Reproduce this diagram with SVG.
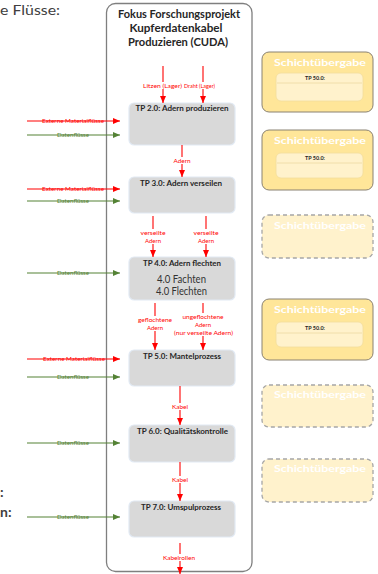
<svg xmlns="http://www.w3.org/2000/svg" width="378" height="574" viewBox="0 0 378 574">
  <defs>
    <marker id="arrRed" markerUnits="userSpaceOnUse" markerWidth="7" markerHeight="6" refX="7" refY="3" orient="auto">
      <path d="M0,0 L7,3 L0,6 z" fill="#ff0000"/>
    </marker>
    <marker id="arrGreen" markerUnits="userSpaceOnUse" markerWidth="7" markerHeight="6" refX="7" refY="3" orient="auto">
      <path d="M0,0 L7,3 L0,6 z" fill="#548235"/>
    </marker>
  </defs>
  <style>
    text { font-family: Lato, "Liberation Sans", sans-serif; }
    .side { font-size: 14px; fill: #404040; }
    .title { font-size: 11px; font-weight: bold; fill: #262626; text-anchor: middle; }
    .tp { fill: #d9d9d9; stroke: #e2eaf4; stroke-width: 1.2; }
    .tpt { font-size: 8px; font-weight: bold; fill: #262626; text-anchor: middle; }
    .sub { font-size: 10.5px; fill: #333333; text-anchor: middle; }
    .red { stroke: #ff0000; stroke-width: 1.1; fill: none; marker-end: url(#arrRed); }
    .green { stroke: #548235; stroke-width: 1.1; fill: none; marker-end: url(#arrGreen); }
    .lr { font-size: 6px; fill: #ff0000; text-anchor: middle; }
    .lg { font-size: 6px; fill: #548235; text-anchor: middle; }
    .bg { fill: #ffffff; }
    .shift { fill: #ffe699; stroke: #8a8272; stroke-width: 1; }
    .shiftd { fill: #fff2cc; stroke: #a6a6a6; stroke-width: 1.3; stroke-dasharray: 4 3; }
    .sht { font-size: 10px; font-weight: bold; fill: #ffffff; text-anchor: middle; }
    .inner { fill: #fff2cc; stroke: #f3dd9c; stroke-width: 0.8; }
    .div { stroke: #ecd9a2; stroke-width: 0.8; }
    .tp50 { font-size: 6px; font-weight: bold; fill: #262626; text-anchor: middle; }
  </style>

  <!-- side captions at the left edge -->
  <text class="side" x="0" y="15" textLength="60" lengthAdjust="spacingAndGlyphs">e Flüsse:</text>
  <text class="side" x="0" y="497" font-weight="bold">:</text>
  <text class="side" x="0" y="517" font-weight="bold">n:</text>

  <!-- project frame -->
  <g id="frame">
    <rect x="106.5" y="3.5" width="145.5" height="568" rx="9" fill="#ffffff" stroke="#7f7f7f" stroke-width="1.3"/>
    <text class="title" x="179" y="18" textLength="122" lengthAdjust="spacingAndGlyphs">Fokus Forschungsprojekt</text>
    <text class="title" x="176" y="32" textLength="93" lengthAdjust="spacingAndGlyphs">Kupferdatenkabel</text>
    <text class="title" x="178" y="46" textLength="100" lengthAdjust="spacingAndGlyphs">Produzieren (CUDA)</text>
  </g>

  <!-- process steps -->
  <g id="tp2">
    <rect class="tp" x="129" y="103" width="106" height="42" rx="5"/>
    <text class="tpt" x="182" y="111" textLength="93" lengthAdjust="spacingAndGlyphs">TP 2.0: Adern produzieren</text>
  </g>
  <g id="tp3">
    <rect class="tp" x="129" y="177" width="106" height="36" rx="5"/>
    <text class="tpt" x="181" y="186" textLength="82" lengthAdjust="spacingAndGlyphs">TP 3.0: Adern verseilen</text>
  </g>
  <g id="tp4">
    <rect class="tp" x="129" y="257" width="106" height="43" rx="5"/>
    <text class="tpt" x="182" y="266" textLength="78" lengthAdjust="spacingAndGlyphs">TP 4.0: Adern flechten</text>
    <text class="sub" x="181.5" y="283" textLength="49" lengthAdjust="spacingAndGlyphs">4.0 Fachten</text>
    <text class="sub" x="181.5" y="295" textLength="51" lengthAdjust="spacingAndGlyphs">4.0 Flechten</text>
  </g>
  <g id="tp5">
    <rect class="tp" x="129" y="350" width="106" height="36" rx="5"/>
    <text class="tpt" x="182" y="359" textLength="78" lengthAdjust="spacingAndGlyphs">TP 5.0: Mantelprozess</text>
  </g>
  <g id="tp6">
    <rect class="tp" x="129" y="425" width="106" height="37" rx="5"/>
    <text class="tpt" x="182.5" y="434" textLength="91" lengthAdjust="spacingAndGlyphs">TP 6.0: Qualitätskontrolle</text>
  </g>
  <g id="tp7">
    <rect class="tp" x="129" y="501" width="106" height="36" rx="5"/>
    <text class="tpt" x="181" y="510" textLength="80" lengthAdjust="spacingAndGlyphs">TP 7.0: Umspulprozess</text>
  </g>

  <!-- shift handover boxes -->
  <g id="shift1">
    <rect class="shift" x="262" y="52" width="111" height="60" rx="7"/>
    <text class="sht" x="320" y="66" textLength="92" lengthAdjust="spacingAndGlyphs">Schichtübergabe</text>
    <rect class="inner" x="276" y="73" width="87" height="28" rx="5"/>
    <line class="div" x1="277" y1="83" x2="362" y2="83"/>
    <text class="tp50" x="315" y="80" textLength="20" lengthAdjust="spacingAndGlyphs">TP 50.0:</text>
  </g>
  <g id="shift2">
    <rect class="shift" x="262" y="130" width="111" height="60" rx="7"/>
    <text class="sht" x="320" y="144" textLength="92" lengthAdjust="spacingAndGlyphs">Schichtübergabe</text>
    <rect class="inner" x="276" y="153" width="87" height="25" rx="5"/>
    <line class="div" x1="277" y1="163" x2="362" y2="163"/>
    <text class="tp50" x="315" y="160" textLength="20" lengthAdjust="spacingAndGlyphs">TP 50.0:</text>
  </g>
  <g id="shift3">
    <rect class="shiftd" x="262" y="215" width="111" height="43" rx="7"/>
    <text class="sht" x="320" y="229" textLength="92" lengthAdjust="spacingAndGlyphs">Schichtübergabe</text>
  </g>
  <g id="shift4">
    <rect class="shift" x="262" y="299" width="111" height="61" rx="7"/>
    <text class="sht" x="320" y="313" textLength="92" lengthAdjust="spacingAndGlyphs">Schichtübergabe</text>
    <rect class="inner" x="276" y="322" width="87" height="25" rx="5"/>
    <line class="div" x1="277" y1="333" x2="362" y2="333"/>
    <text class="tp50" x="315" y="330" textLength="20" lengthAdjust="spacingAndGlyphs">TP 50.0:</text>
  </g>
  <g id="shift5">
    <rect class="shiftd" x="262" y="385" width="111" height="42" rx="7"/>
    <text class="sht" x="320" y="398" textLength="92" lengthAdjust="spacingAndGlyphs">Schichtübergabe</text>
  </g>
  <g id="shift6">
    <rect class="shiftd" x="262" y="459" width="111" height="43" rx="7"/>
    <text class="sht" x="320" y="472" textLength="92" lengthAdjust="spacingAndGlyphs">Schichtübergabe</text>
  </g>

  <!-- flows -->
  <g id="connectors">
    <!-- raw material into TP 2.0 -->
    <line class="red" x1="163" y1="66" x2="163" y2="103"/>
    <line class="red" x1="203" y1="66" x2="203" y2="103"/>
    <rect class="bg" x="142" y="82" width="74" height="7"/>
    <text class="lr" x="162.5" y="87.5" textLength="39" lengthAdjust="spacingAndGlyphs">Litzen (Lager)</text>
    <text class="lr" x="199.5" y="87.5" textLength="31" lengthAdjust="spacingAndGlyphs">Draht (Lager)</text>

    <!-- TP 2.0 -> TP 3.0 -->
    <line class="red" x1="182" y1="145" x2="182" y2="177"/>
    <rect class="bg" x="172" y="157" width="20" height="7"/>
    <text class="lr" x="182" y="162.5" textLength="17" lengthAdjust="spacingAndGlyphs">Adern</text>

    <!-- TP 3.0 -> TP 4.0 -->
    <line class="red" x1="153" y1="216" x2="153" y2="257"/>
    <line class="red" x1="206" y1="216" x2="206" y2="257"/>
    <rect class="bg" x="139" y="229" width="28" height="15"/>
    <rect class="bg" x="192" y="229" width="28" height="15"/>
    <text class="lr" x="153" y="235" textLength="25" lengthAdjust="spacingAndGlyphs">verseilte</text>
    <text class="lr" x="153" y="243" textLength="16" lengthAdjust="spacingAndGlyphs">Adern</text>
    <text class="lr" x="206" y="235" textLength="25" lengthAdjust="spacingAndGlyphs">verseilte</text>
    <text class="lr" x="206" y="243" textLength="16" lengthAdjust="spacingAndGlyphs">Adern</text>

    <!-- TP 4.0 -> TP 5.0 -->
    <line class="red" x1="155" y1="303" x2="155" y2="350"/>
    <line class="red" x1="203" y1="303" x2="203" y2="350"/>
    <rect class="bg" x="137" y="316" width="36" height="15"/>
    <rect class="bg" x="173" y="313" width="61" height="23"/>
    <text class="lr" x="155" y="322" textLength="34" lengthAdjust="spacingAndGlyphs">geflochtene</text>
    <text class="lr" x="155" y="330" textLength="16" lengthAdjust="spacingAndGlyphs">Adern</text>
    <text class="lr" x="203" y="319" textLength="41" lengthAdjust="spacingAndGlyphs">ungeflochtene</text>
    <text class="lr" x="203" y="327" textLength="16" lengthAdjust="spacingAndGlyphs">Adern</text>
    <text class="lr" x="203.5" y="335" textLength="59" lengthAdjust="spacingAndGlyphs">(nur verseilte Adern)</text>

    <!-- TP 5.0 -> TP 6.0 -->
    <line class="red" x1="180" y1="386" x2="180" y2="425"/>
    <rect class="bg" x="171" y="403" width="18" height="7"/>
    <text class="lr" x="180" y="408.5" textLength="16" lengthAdjust="spacingAndGlyphs">Kabel</text>

    <!-- TP 6.0 -> TP 7.0 -->
    <line class="red" x1="180" y1="462" x2="180" y2="501"/>
    <rect class="bg" x="171" y="476" width="18" height="7"/>
    <text class="lr" x="180" y="481.5" textLength="16" lengthAdjust="spacingAndGlyphs">Kabel</text>

    <!-- TP 7.0 output -->
    <line class="red" x1="180" y1="543" x2="180" y2="574"/>
    <rect class="bg" x="162" y="554" width="35" height="7"/>
    <text class="lr" x="179" y="559.5" textLength="32" lengthAdjust="spacingAndGlyphs">Kabelrollen</text>

    <!-- external inputs -->
    <line class="red" x1="27" y1="121" x2="120" y2="121"/>
    <text class="lr" x="73" y="123" textLength="62" lengthAdjust="spacingAndGlyphs">Externe Materialflüsse</text>
    <line class="green" x1="27" y1="135" x2="120" y2="135"/>
    <text class="lg" x="73" y="137" textLength="32" lengthAdjust="spacingAndGlyphs">Datenflüsse</text>

    <line class="red" x1="27" y1="189" x2="120" y2="189"/>
    <text class="lr" x="73" y="191" textLength="62" lengthAdjust="spacingAndGlyphs">Externe Materialflüsse</text>
    <line class="green" x1="27" y1="201" x2="120" y2="201"/>
    <text class="lg" x="73" y="203" textLength="32" lengthAdjust="spacingAndGlyphs">Datenflüsse</text>

    <line class="green" x1="27" y1="273" x2="120" y2="273"/>
    <text class="lg" x="73" y="275" textLength="32" lengthAdjust="spacingAndGlyphs">Datenflüsse</text>

    <line class="red" x1="27" y1="359" x2="120" y2="359"/>
    <text class="lr" x="74" y="361" textLength="62" lengthAdjust="spacingAndGlyphs">Externe Materialflüsse</text>
    <line class="green" x1="27" y1="377" x2="120" y2="377"/>
    <text class="lg" x="73" y="379" textLength="32" lengthAdjust="spacingAndGlyphs">Datenflüsse</text>

    <line class="green" x1="27" y1="443" x2="120" y2="443"/>
    <text class="lg" x="73" y="445" textLength="32" lengthAdjust="spacingAndGlyphs">Datenflüsse</text>

    <line class="green" x1="27" y1="517" x2="120" y2="517"/>
    <text class="lg" x="73" y="519" textLength="32" lengthAdjust="spacingAndGlyphs">Datenflüsse</text>
  </g>
</svg>
